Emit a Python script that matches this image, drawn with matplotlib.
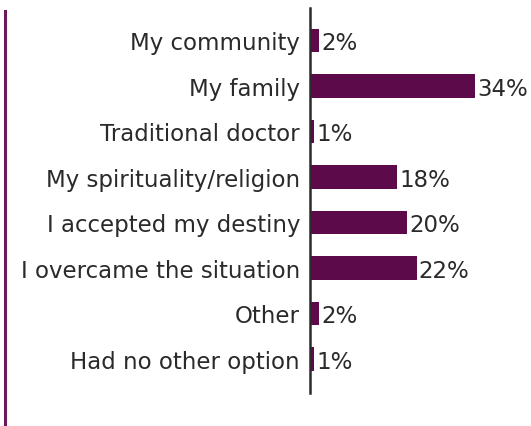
import matplotlib
matplotlib.use("Agg")
import matplotlib.pyplot as plt
from matplotlib.lines import Line2D

categories = [
    "My community",
    "My family",
    "Traditional doctor",
    "My spirituality/religion",
    "I accepted my destiny",
    "I overcame the situation",
    "Other",
    "Had no other option",
]
values = [2, 34, 1, 18, 20, 22, 2, 1]

W, H = 531, 426
DPI = 100
bar_color = "#5c0a4a"
text_color = "#2a2a2a"
accent = "#6b1a5c"
FS = 16.5

plt.rcParams["font.family"] = ["DejaVu Sans"]

fig = plt.figure(figsize=(W / DPI, H / DPI), dpi=DPI)

# axes placed in pixel coordinates
ax_left, ax_right = 309.5, 531
ax_top, ax_bottom = 8, 393
ax = fig.add_axes([ax_left / W, 1 - ax_bottom / H,
                   (ax_right - ax_left) / W, (ax_bottom - ax_top) / H])

y = list(range(len(categories)))
ax.barh(y, values, height=0.51, color=bar_color, zorder=1)
ax.set_xlim(0, (ax_right - ax_left) / 4.87)
ax.set_ylim(7.747, -0.714)

# value labels to the right of each bar
for yi, v in zip(y, values):
    ax.annotate(f"{v}%", (v, yi), xytext=(1.5, -2.5), textcoords="offset points",
                ha="left", va="center", fontsize=FS, color=text_color,
                annotation_clip=False)

# category labels to the left of the axis line
ax.set_yticks([])
for yi, name in zip(y, categories):
    ax.annotate(name, (0, yi), xytext=(-6.8, -2.5), textcoords="offset points",
                ha="right", va="center", fontsize=FS, color=text_color,
                annotation_clip=False)

ax.set_xticks([])
for s in ["top", "right", "bottom"]:
    ax.spines[s].set_visible(False)
ax.spines["left"].set_color("#2b2b2b")
ax.spines["left"].set_linewidth(1.8)
ax.spines["left"].set_zorder(3)

# decorative vertical rule at the left edge
fig.add_artist(Line2D([4.5 / W, 4.5 / W], [0, 1 - 11 / H],
                      transform=fig.transFigure, color=accent, linewidth=2.2))

fig.savefig("out.png", dpi=DPI)
